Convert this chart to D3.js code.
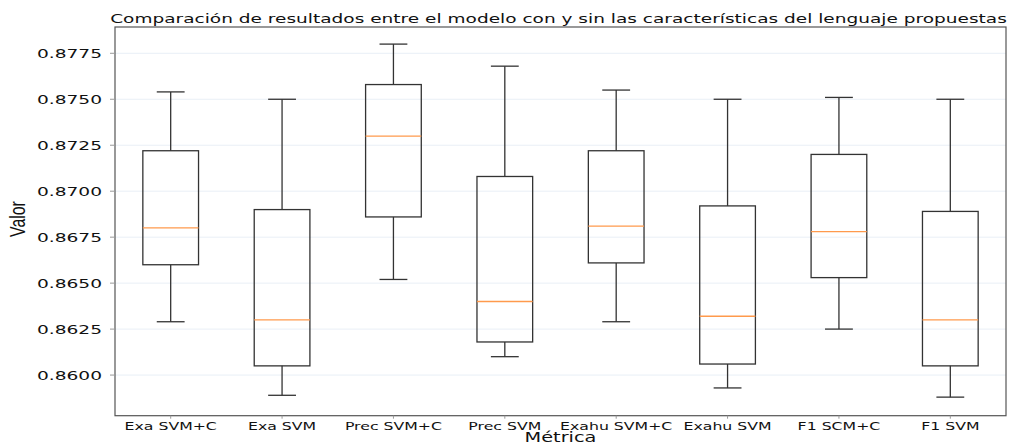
<!DOCTYPE html>
<html>
<head>
<meta charset="utf-8">
<script src="https://cdn.jsdelivr.net/npm/d3@7"></script>
<style>
  body { margin: 0; background: #fff; }
  text { font-family: 'DejaVu Sans', sans-serif; fill: #111; }
</style>
</head>
<body>
<div id="app"></div>
<script>
'use strict'

// box plot summaries
const categories = ['Exa SVM+C', 'Exa SVM', 'Prec SVM+C', 'Prec SVM', 'Exahu SVM+C', 'Exahu SVM', 'F1 SCM+C', 'F1 SVM']
const whiskerLow = [0.8629, 0.8589, 0.8652, 0.8610, 0.8629, 0.8593, 0.8625, 0.8588]
const q1 = [0.8660, 0.8605, 0.8686, 0.8618, 0.8661, 0.8606, 0.8653, 0.8605]
const median = [0.8680, 0.8630, 0.8730, 0.8640, 0.8681, 0.8632, 0.8678, 0.8630]
const q3 = [0.8722, 0.8690, 0.8758, 0.8708, 0.8722, 0.8692, 0.8720, 0.8689]
const whiskerHigh = [0.8754, 0.8750, 0.8780, 0.8768, 0.8755, 0.8750, 0.8751, 0.8750]
const yTicks = [0.8600, 0.8625, 0.8650, 0.8675, 0.8700, 0.8725, 0.8750, 0.8775]

const width = 1009
const height = 445
const margin = { top: 27, right: 3, bottom: 29.3, left: 115 }
const stretch = 1.43 // the picture is wider than its fonts

const svg = d3.select('#app').append('svg')
  .attr('width', width)
  .attr('height', height)

const x = d3.scaleLinear()
  .domain([0.5, categories.length + 0.5])
  .range([margin.left, width - margin.right])

const y = d3.scaleLinear()
  .domain([0.85779, 0.87893])
  .range([height - margin.bottom, margin.top])

// grid
svg.append('g')
  .selectAll('line')
  .data(yTicks)
  .enter().append('line')
  .attr('x1', margin.left)
  .attr('x2', width - margin.right)
  .attr('y1', d => y(d))
  .attr('y2', d => y(d))
  .style('stroke', '#e9eff6')
  .style('stroke-width', 1)

const boxes = svg.append('g')
  .selectAll('g')
  .data(categories)
  .enter().append('g')

const boxW = x(1.25) - x(1)
const capW = x(1.125) - x(1)
const ink = '#333'

// whiskers
boxes.append('line')
  .attr('x1', (d, i) => x(i + 1)).attr('x2', (d, i) => x(i + 1))
  .attr('y1', (d, i) => y(q3[i])).attr('y2', (d, i) => y(whiskerHigh[i]))
  .style('stroke', ink).style('stroke-width', 1.3)
boxes.append('line')
  .attr('x1', (d, i) => x(i + 1)).attr('x2', (d, i) => x(i + 1))
  .attr('y1', (d, i) => y(q1[i])).attr('y2', (d, i) => y(whiskerLow[i]))
  .style('stroke', ink).style('stroke-width', 1.3)

// caps
boxes.append('line')
  .attr('x1', (d, i) => x(i + 1) - capW).attr('x2', (d, i) => x(i + 1) + capW)
  .attr('y1', (d, i) => y(whiskerHigh[i])).attr('y2', (d, i) => y(whiskerHigh[i]))
  .style('stroke', ink).style('stroke-width', 1.3)
boxes.append('line')
  .attr('x1', (d, i) => x(i + 1) - capW).attr('x2', (d, i) => x(i + 1) + capW)
  .attr('y1', (d, i) => y(whiskerLow[i])).attr('y2', (d, i) => y(whiskerLow[i]))
  .style('stroke', ink).style('stroke-width', 1.3)

// boxes
boxes.append('rect')
  .attr('x', (d, i) => x(i + 1) - boxW)
  .attr('width', boxW * 2)
  .attr('y', (d, i) => y(q3[i]))
  .attr('height', (d, i) => y(q1[i]) - y(q3[i]))
  .style('fill', 'none')
  .style('stroke', ink)
  .style('stroke-width', 1.3)

// medians
boxes.append('line')
  .attr('x1', (d, i) => x(i + 1) - boxW).attr('x2', (d, i) => x(i + 1) + boxW)
  .attr('y1', (d, i) => y(median[i])).attr('y2', (d, i) => y(median[i]))
  .style('stroke', '#ff9a4d').style('stroke-width', 1.3)

// frame
svg.append('rect')
  .attr('x', margin.left)
  .attr('y', margin.top)
  .attr('width', width - margin.right - margin.left)
  .attr('height', height - margin.bottom - margin.top)
  .style('fill', 'none')
  .style('stroke', '#555')
  .style('stroke-width', 1.2)

// y ticks
const yt = svg.append('g')
  .selectAll('g')
  .data(yTicks)
  .enter().append('g')
yt.append('line')
  .attr('x1', margin.left - 5).attr('x2', margin.left)
  .attr('y1', d => y(d)).attr('y2', d => y(d))
  .style('stroke', '#999')
yt.append('text')
  .attr('transform', d => `translate(102, ${y(d)}) scale(${stretch}, 1)`)
  .attr('dy', '0.36em')
  .style('text-anchor', 'end')
  .style('font-size', '13px')
  .text(d => d3.format('.4f')(d))

// x ticks
const xt = svg.append('g')
  .selectAll('g')
  .data(categories)
  .enter().append('g')
xt.append('line')
  .attr('x1', (d, i) => x(i + 1)).attr('x2', (d, i) => x(i + 1))
  .attr('y1', height - margin.bottom).attr('y2', height - margin.bottom + 3)
  .style('stroke', '#999')
xt.append('text')
  .attr('transform', (d, i) => `translate(${x(i + 1)}, 430) scale(${stretch}, 1)`)
  .style('text-anchor', 'middle')
  .style('font-size', '11px')
  .text(d => d)

// axis titles
svg.append('text')
  .attr('transform', `translate(${(margin.left + width - margin.right) / 2}, 442) scale(${stretch}, 1)`)
  .style('text-anchor', 'middle')
  .style('font-size', '13.5px')
  .text('Métrica')

svg.append('text')
  .attr('transform', 'translate(25, 219) rotate(-90) scale(0.72, 1)')
  .style('text-anchor', 'middle')
  .style('font-family', "'Liberation Sans', sans-serif")
  .style('font-size', '22px')
  .text('Valor')

// title, stretched to span the same width as in the picture
const title = svg.append('text')
  .style('text-anchor', 'middle')
  .style('font-size', '12.5px')
  .text('Comparación de resultados entre el modelo con y sin las características del lenguaje propuestas')
const tw = title.node().getComputedTextLength()
title.attr('transform', `translate(558.5, 23) scale(${897 / tw}, 1)`)
</script>
</body>
</html>
